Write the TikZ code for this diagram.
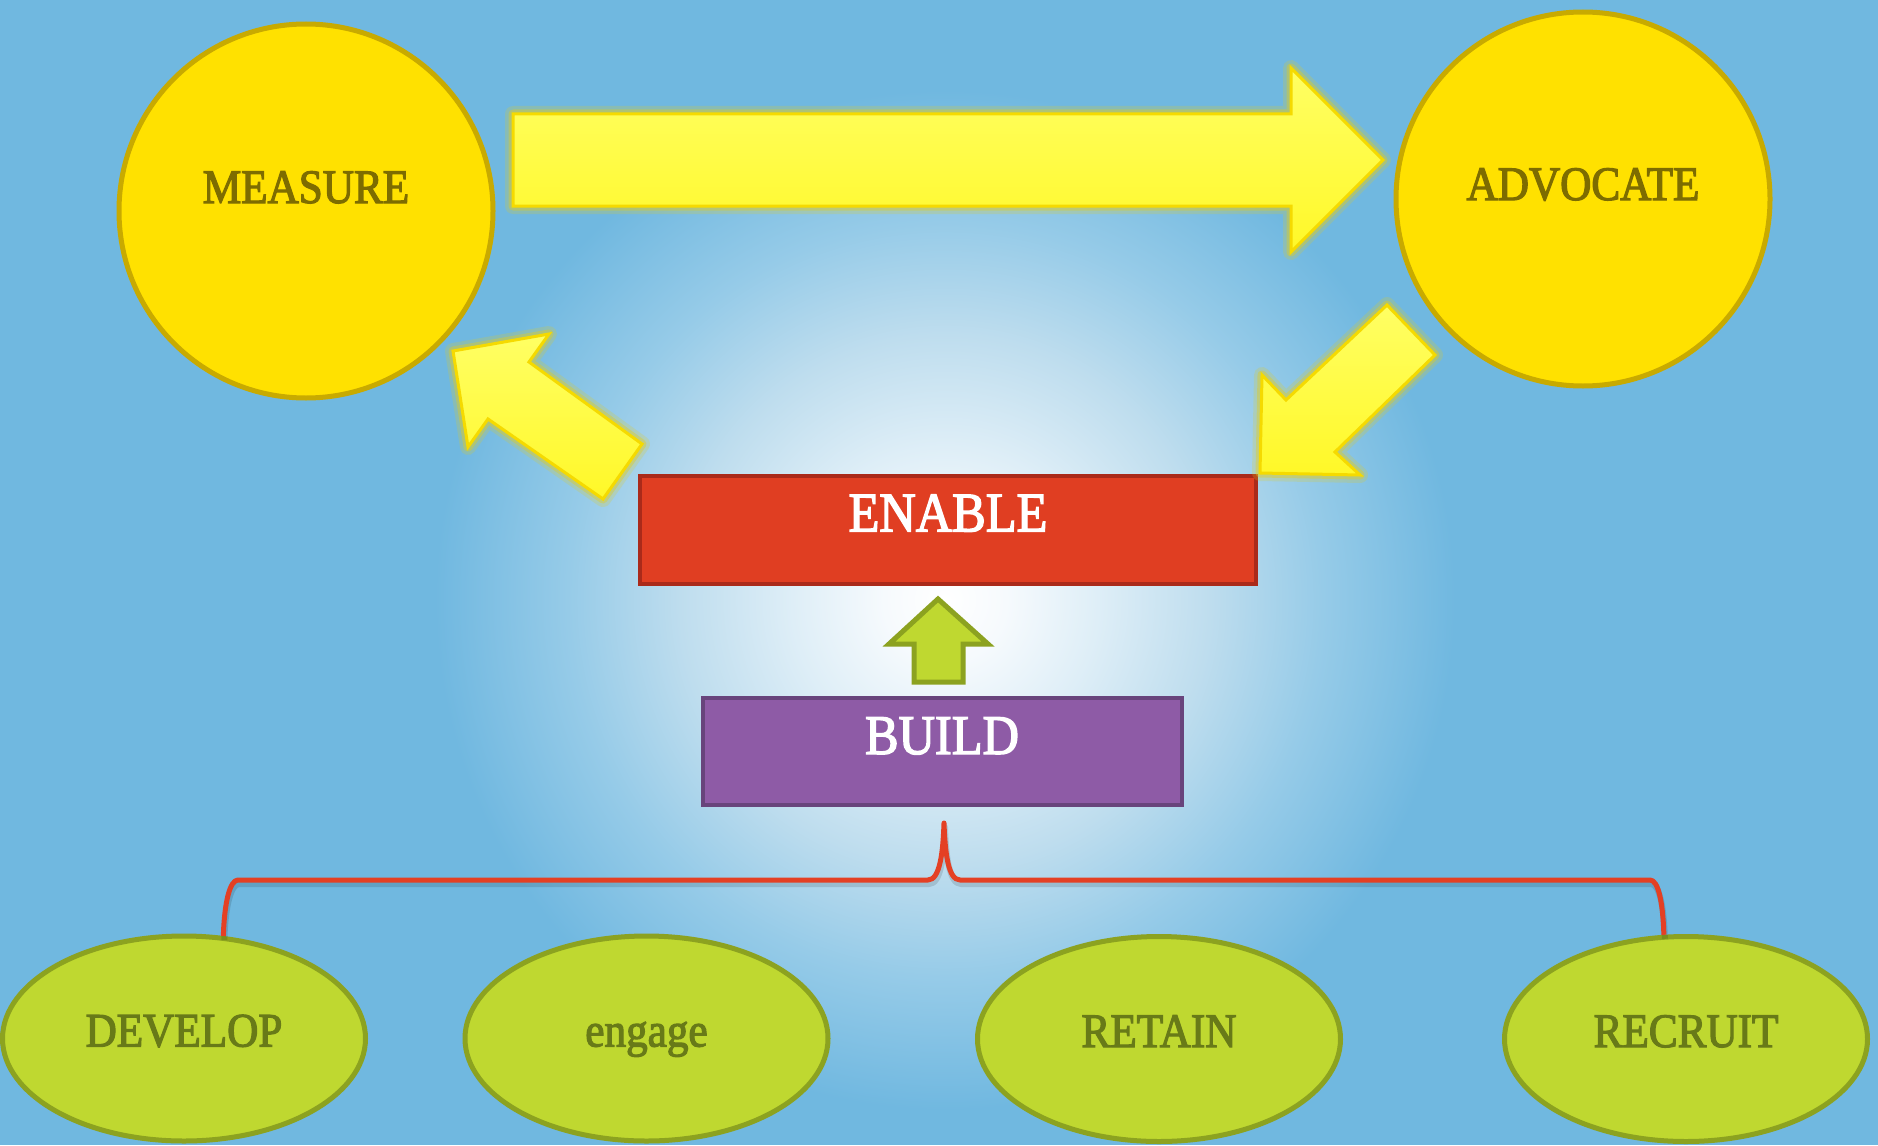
\documentclass[tikz,border=0pt]{standalone}
\usepackage{fontspec}
\newfontfamily\dfont[FakeStretch=0.9,FakeBold=2.4]{Liberation Serif}
\usetikzlibrary{shapes.geometric}
\definecolor{bg}{RGB}{112,184,224}
\definecolor{glowA}{RGB}{246,250,253}
\definecolor{glowB}{RGB}{222,238,247}
\definecolor{glowC}{RGB}{190,221,238}
\definecolor{glowD}{RGB}{150,203,232}
\definecolor{circfill}{RGB}{255,225,0}
\definecolor{circline}{RGB}{200,170,0}
\definecolor{circtext}{RGB}{125,108,0}
\definecolor{ytop}{RGB}{255,255,100}
\definecolor{ybot}{RGB}{255,248,40}
\definecolor{yline}{RGB}{245,218,0}
\definecolor{yglow}{RGB}{228,205,25}
\definecolor{enfill}{RGB}{224,62,34}
\definecolor{enline}{RGB}{170,42,26}
\definecolor{bufill}{RGB}{142,91,166}
\definecolor{buline}{RGB}{104,68,124}
\definecolor{grfill}{RGB}{191,216,48}
\definecolor{grline}{RGB}{140,162,32}
\definecolor{grtext}{RGB}{104,122,24}
\definecolor{brred}{RGB}{228,64,36}
\pgfdeclareradialshading{glowshade}{\pgfpoint{0bp}{0bp}}{color(0bp)=(white); color(3bp)=(glowA); color(7.5bp)=(glowB); color(13bp)=(glowC); color(18.5bp)=(glowD); color(25bp)=(bg); color(50bp)=(bg)}
\begin{document}
\begin{tikzpicture}[x=1pt,y=-1pt,
  bigcirc/.style={circle, minimum size=374pt, inner sep=0pt, fill=circfill, draw=circline, line width=5pt,
    font=\dfont\fontsize{48}{48}\selectfont, text=circtext, text height=32pt},
  boxnode/.style={rectangle, inner sep=0pt, line width=4pt, text=white,
    font=\dfont\fontsize{56}{56}\selectfont, text height=37pt},
  ovalnode/.style={ellipse, minimum width=363pt, minimum height=205pt, inner sep=0pt,
    fill=grfill, draw=grline, line width=5pt, text=grtext,
    font=\dfont\fontsize{48}{48}\selectfont, text height=32pt, text depth=16pt},
  blockarrow/.style={preaction={draw=yglow, line width=16pt, opacity=.22, line join=round},
    preaction={draw=yglow, line width=9pt, opacity=.4, line join=round},
    top color=ytop, bottom color=ybot, draw=yline, line width=3pt, line join=miter},
  bracket/.style={draw=brred, line width=5pt, line join=round}
]
\useasboundingbox (0,0) rectangle (1878,1145);
\fill[bg] (0,0) rectangle (1878,1145);
\shade[shading=glowshade] (945,600) circle[radius=510pt];

% main nodes
\node[bigcirc, text depth=48pt] (measure) at (306,211) {MEASURE};
\node[bigcirc, text depth=30pt] (advocate) at (1583,199) {ADVOCATE};
\node[boxnode, minimum width=616pt, minimum height=108pt, fill=enfill, draw=enline, text depth=34pt] (enable) at (948,530) {ENABLE};
\node[boxnode, minimum width=479pt, minimum height=107pt, fill=bufill, draw=buline, text depth=32pt] (build) at (942,751.5) {BUILD};

\node[ovalnode] (develop) at (184,1038.5) {DEVELOP};
\node[ovalnode] (engage) at (646.5,1038.5) {engage};
\node[ovalnode] (retain) at (1159,1039) {RETAIN};
\node[ovalnode] (recruit) at (1686,1039) {RECRUIT};

% yellow block arrows
\path[blockarrow] (513,114) -- (1291,114) -- (1291,68) -- (1383,160) -- (1291,252) -- (1291,206) -- (513,206) -- cycle;
\path[blockarrow] (1387,305) -- (1435,355) -- (1335,452) -- (1360,475) -- (1260,473) -- (1262,375) -- (1286,400) -- cycle;
\path[blockarrow] (642,444) -- (603,499) -- (488,419) -- (468,447) -- (453,351) -- (549,334) -- (529,362) -- cycle;

% green up arrow
\draw[fill=grfill, draw=grline, line width=5pt, line join=miter]
  (938,599) -- (988,644) -- (963,644) -- (963,682) -- (914,682) -- (914,644) -- (889,644) -- cycle;

% bracket (shadow, then line)
\coordinate (brtip) at (944,823);
\path[bracket, draw=black, draw opacity=.12, line width=6pt, transform canvas={shift={(1pt,-4pt)}}]
  (develop.69) .. controls +(1,-34) and +(-8,0) .. (238,880) -- (928,880)
  .. controls (940,880) and (943,852) .. (brtip)
  .. controls (945,852) and (948,880) .. (960,880) -- (1650,880)
  .. controls +(8,0) and +(-1,-34) .. (recruit.102);
\path[bracket] (develop.69) .. controls +(1,-34) and +(-8,0) .. (238,880) -- (928,880)
  .. controls (940,880) and (943,852) .. (brtip)
  .. controls (945,852) and (948,880) .. (960,880) -- (1650,880)
  .. controls +(8,0) and +(-1,-34) .. (recruit.102);
\end{tikzpicture}
\end{document}
